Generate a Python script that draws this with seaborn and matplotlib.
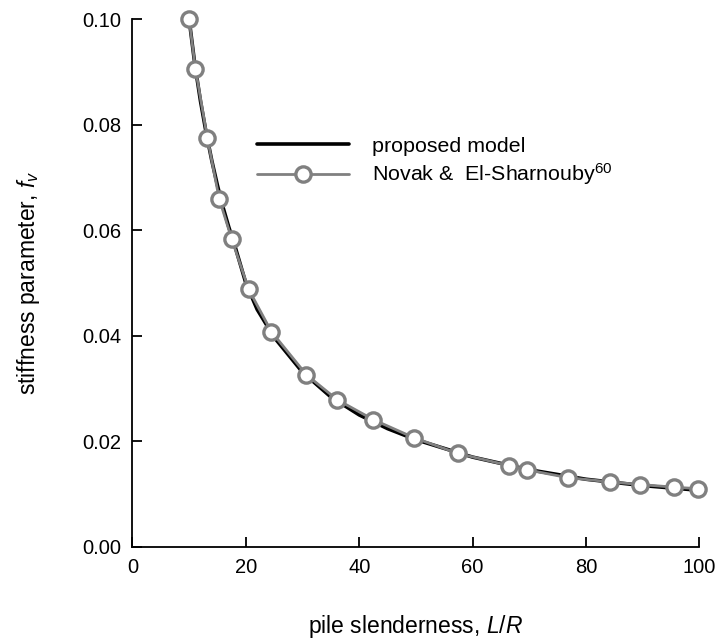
import matplotlib
matplotlib.use("Agg")
import matplotlib.pyplot as plt
import seaborn as sns
import pandas as pd

# proposed model curve
model_x = [10, 11, 12, 13, 14, 15, 16, 17, 18, 20, 22, 25, 30, 35, 40, 45, 50, 60, 70, 80, 90, 100]
model_y = [0.1000, 0.0915, 0.0845, 0.0785, 0.0732, 0.0685, 0.0643, 0.0606, 0.0573, 0.0500, 0.0450,
           0.0397, 0.0331, 0.0284, 0.0250, 0.0224, 0.0203, 0.0170, 0.0146, 0.0128, 0.0116, 0.0107]

# Novak & El-Sharnouby data points
novak_x = [10.0, 11.1, 13.2, 15.3, 17.5, 20.5, 24.5, 30.7, 36.1, 42.5, 49.6,
           57.4, 66.4, 69.6, 76.8, 84.3, 89.5, 95.5, 99.8]
novak_y = [0.1000, 0.0907, 0.0776, 0.0660, 0.0584, 0.0488, 0.0408, 0.0326, 0.0279, 0.0241, 0.0207,
           0.0177, 0.0154, 0.0146, 0.0131, 0.0123, 0.0118, 0.0113, 0.0110]

x_ticks = [0, 20, 40, 60, 80, 100]
y_ticks = [0.00, 0.02, 0.04, 0.06, 0.08, 0.10]

sns.set_style("ticks")
plt.rcParams["font.family"] = ["Liberation Sans", "DejaVu Sans"]
plt.rcParams["mathtext.fontset"] = "custom"
plt.rcParams["mathtext.rm"] = "Liberation Sans"
plt.rcParams["mathtext.it"] = "Liberation Sans:italic"
plt.rcParams["text.color"] = "black"
plt.rcParams["axes.labelcolor"] = "black"
plt.rcParams["xtick.color"] = "black"
plt.rcParams["ytick.color"] = "black"
plt.rcParams["axes.edgecolor"] = "black"

fig = plt.figure(figsize=(7.18, 6.39), dpi=100)
ax = fig.add_axes([0.1845, 0.1444, 0.974 - 0.1845, 0.9695 - 0.1444])

df_m = pd.DataFrame({"x": model_x, "y": model_y})
df_n = pd.DataFrame({"x": novak_x, "y": novak_y})

sns.lineplot(data=df_m, x="x", y="y", ax=ax, color="black", lw=2.6,
             label="proposed model", zorder=2, sort=False)
sns.lineplot(data=df_n, x="x", y="y", ax=ax, color="#808080", lw=2.0,
             marker="o", markersize=11, markerfacecolor="white",
             markeredgecolor="#808080", markeredgewidth=2.4,
             label="Novak &  El-Sharnouby$^{60}$", zorder=3, sort=False,
             clip_on=False)

ax.set_xlim(0, 100)
ax.set_ylim(0, 0.10)
ax.set_xticks(x_ticks)
ax.set_yticks(y_ticks)
ax.set_xticklabels([str(v) for v in x_ticks])
ax.set_yticklabels([f"{v:.2f}" for v in y_ticks])
ax.tick_params(direction="in", length=7.5, width=1.3, labelsize=14.5, pad=8)
for s in ["left", "bottom"]:
    ax.spines[s].set_linewidth(1.3)
sns.despine(ax=ax)

ax.set_xlabel("pile slenderness, $L/R$", fontsize=16.5, labelpad=26)
ax.set_ylabel("stiffness parameter, $f_v$", fontsize=16.5, labelpad=29)

ax.legend(loc="center left", bbox_to_anchor=(257 / 718, 1 - 162 / 639),
          bbox_transform=fig.transFigure, frameon=False, fontsize=15.4,
          handlelength=4.3, handletextpad=1.1, labelspacing=0.28,
          borderpad=0, borderaxespad=0, numpoints=1)

fig.savefig("out.png", dpi=100)
